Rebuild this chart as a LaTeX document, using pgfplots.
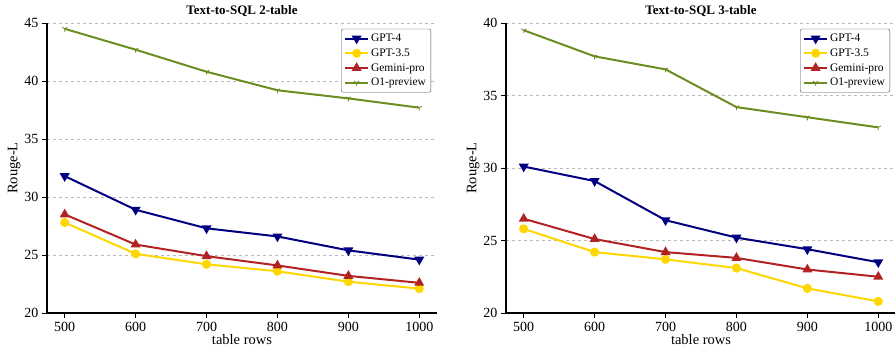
\documentclass[border=0pt]{standalone}
\usepackage{fontspec}
\setmainfont{Liberation Serif}
\usepackage{pgfplots}
\pgfplotsset{compat=1.18}
\usetikzlibrary{plotmarks}
\definecolor{cnavy}{RGB}{0,0,128}
\definecolor{cgold}{RGB}{255,215,0}
\definecolor{cred}{RGB}{178,34,34}
\definecolor{cgreen}{RGB}{107,142,35}
\pgfplotsset{
 mystyle/.style={
  scale only axis, width=390pt, height=290pt,
  xmin=475, xmax=1025, xtick={500,600,...,1000},
  axis x line*=bottom, axis y line*=left,
  axis line style={line width=1.8pt,-},
  tick style={black, line width=1pt}, tick align=outside, major tick length=5pt,
  ymajorgrids, grid style={dashed, gray!55, line width=0.5pt},
  ylabel={Rouge-L}, xlabel={table rows},
  tick label style={font=\fontsize{14}{16}\selectfont},
  xticklabel style={yshift=-1pt},
  label style={font=\fontsize{14.5}{16}\selectfont},
  xlabel style={yshift=4pt},
  ylabel style={yshift=-3pt},
  title style={font=\bfseries\fontsize{13}{15}\selectfont, yshift=-3pt},
  legend style={at={(0.985,0.98)}, anchor=north east, font=\fontsize{11.5}{13}\selectfont,
    draw=black!70, rounded corners=2pt, row sep=1.6pt, inner sep=3pt},
  legend image code/.code={\draw[mark repeat=2,mark phase=2] plot coordinates {(0cm,0cm) (0.4cm,0cm) (0.8cm,0cm)};},
  legend cell align=left,
  /pgf/number format/assume math mode=true,
  /pgf/number format/1000 sep={},
  every axis plot/.append style={line width=2pt},
 },
 g4/.style={cnavy, mark=triangle*, mark options={rotate=180, solid}, mark size=3.8pt},
 g35/.style={cgold, mark=*, mark size=3.5pt},
 gem/.style={cred, mark=triangle*, mark size=3.8pt},
 o1/.style={cgreen, mark=Mercedes star flipped, mark size=3pt, mark options={line width=0.8pt}},
}
\begin{document}
\begin{tikzpicture}
\begin{axis}[mystyle, title={Text-to-SQL 2-table}, ymin=20, ymax=45, ytick={20,25,...,45}]
\addplot[g4] coordinates {(500,31.8) (600,28.9) (700,27.3) (800,26.6) (900,25.4) (1000,24.6)};
\addplot[g35] coordinates {(500,27.8) (600,25.1) (700,24.2) (800,23.6) (900,22.7) (1000,22.1)};
\addplot[gem] coordinates {(500,28.5) (600,25.9) (700,24.9) (800,24.1) (900,23.2) (1000,22.6)};
\addplot[o1] coordinates {(500,44.5) (600,42.7) (700,40.8) (800,39.2) (900,38.5) (1000,37.7)};
\legend{GPT-4, GPT-3.5, Gemini-pro, O1-preview}
\end{axis}
\begin{axis}[mystyle, at={(459pt,0pt)}, title={Text-to-SQL 3-table}, ymin=20, ymax=40, ytick={20,25,...,40}]
\addplot[g4] coordinates {(500,30.1) (600,29.1) (700,26.4) (800,25.2) (900,24.4) (1000,23.5)};
\addplot[g35] coordinates {(500,25.8) (600,24.2) (700,23.7) (800,23.1) (900,21.7) (1000,20.8)};
\addplot[gem] coordinates {(500,26.5) (600,25.1) (700,24.2) (800,23.8) (900,23.0) (1000,22.5)};
\addplot[o1] coordinates {(500,39.5) (600,37.7) (700,36.8) (800,34.2) (900,33.5) (1000,32.8)};
\legend{GPT-4, GPT-3.5, Gemini-pro, O1-preview}
\end{axis}
\pgfresetboundingbox
\path (-47pt,-36pt) rectangle (848pt,313pt);
\end{tikzpicture}
\end{document}
